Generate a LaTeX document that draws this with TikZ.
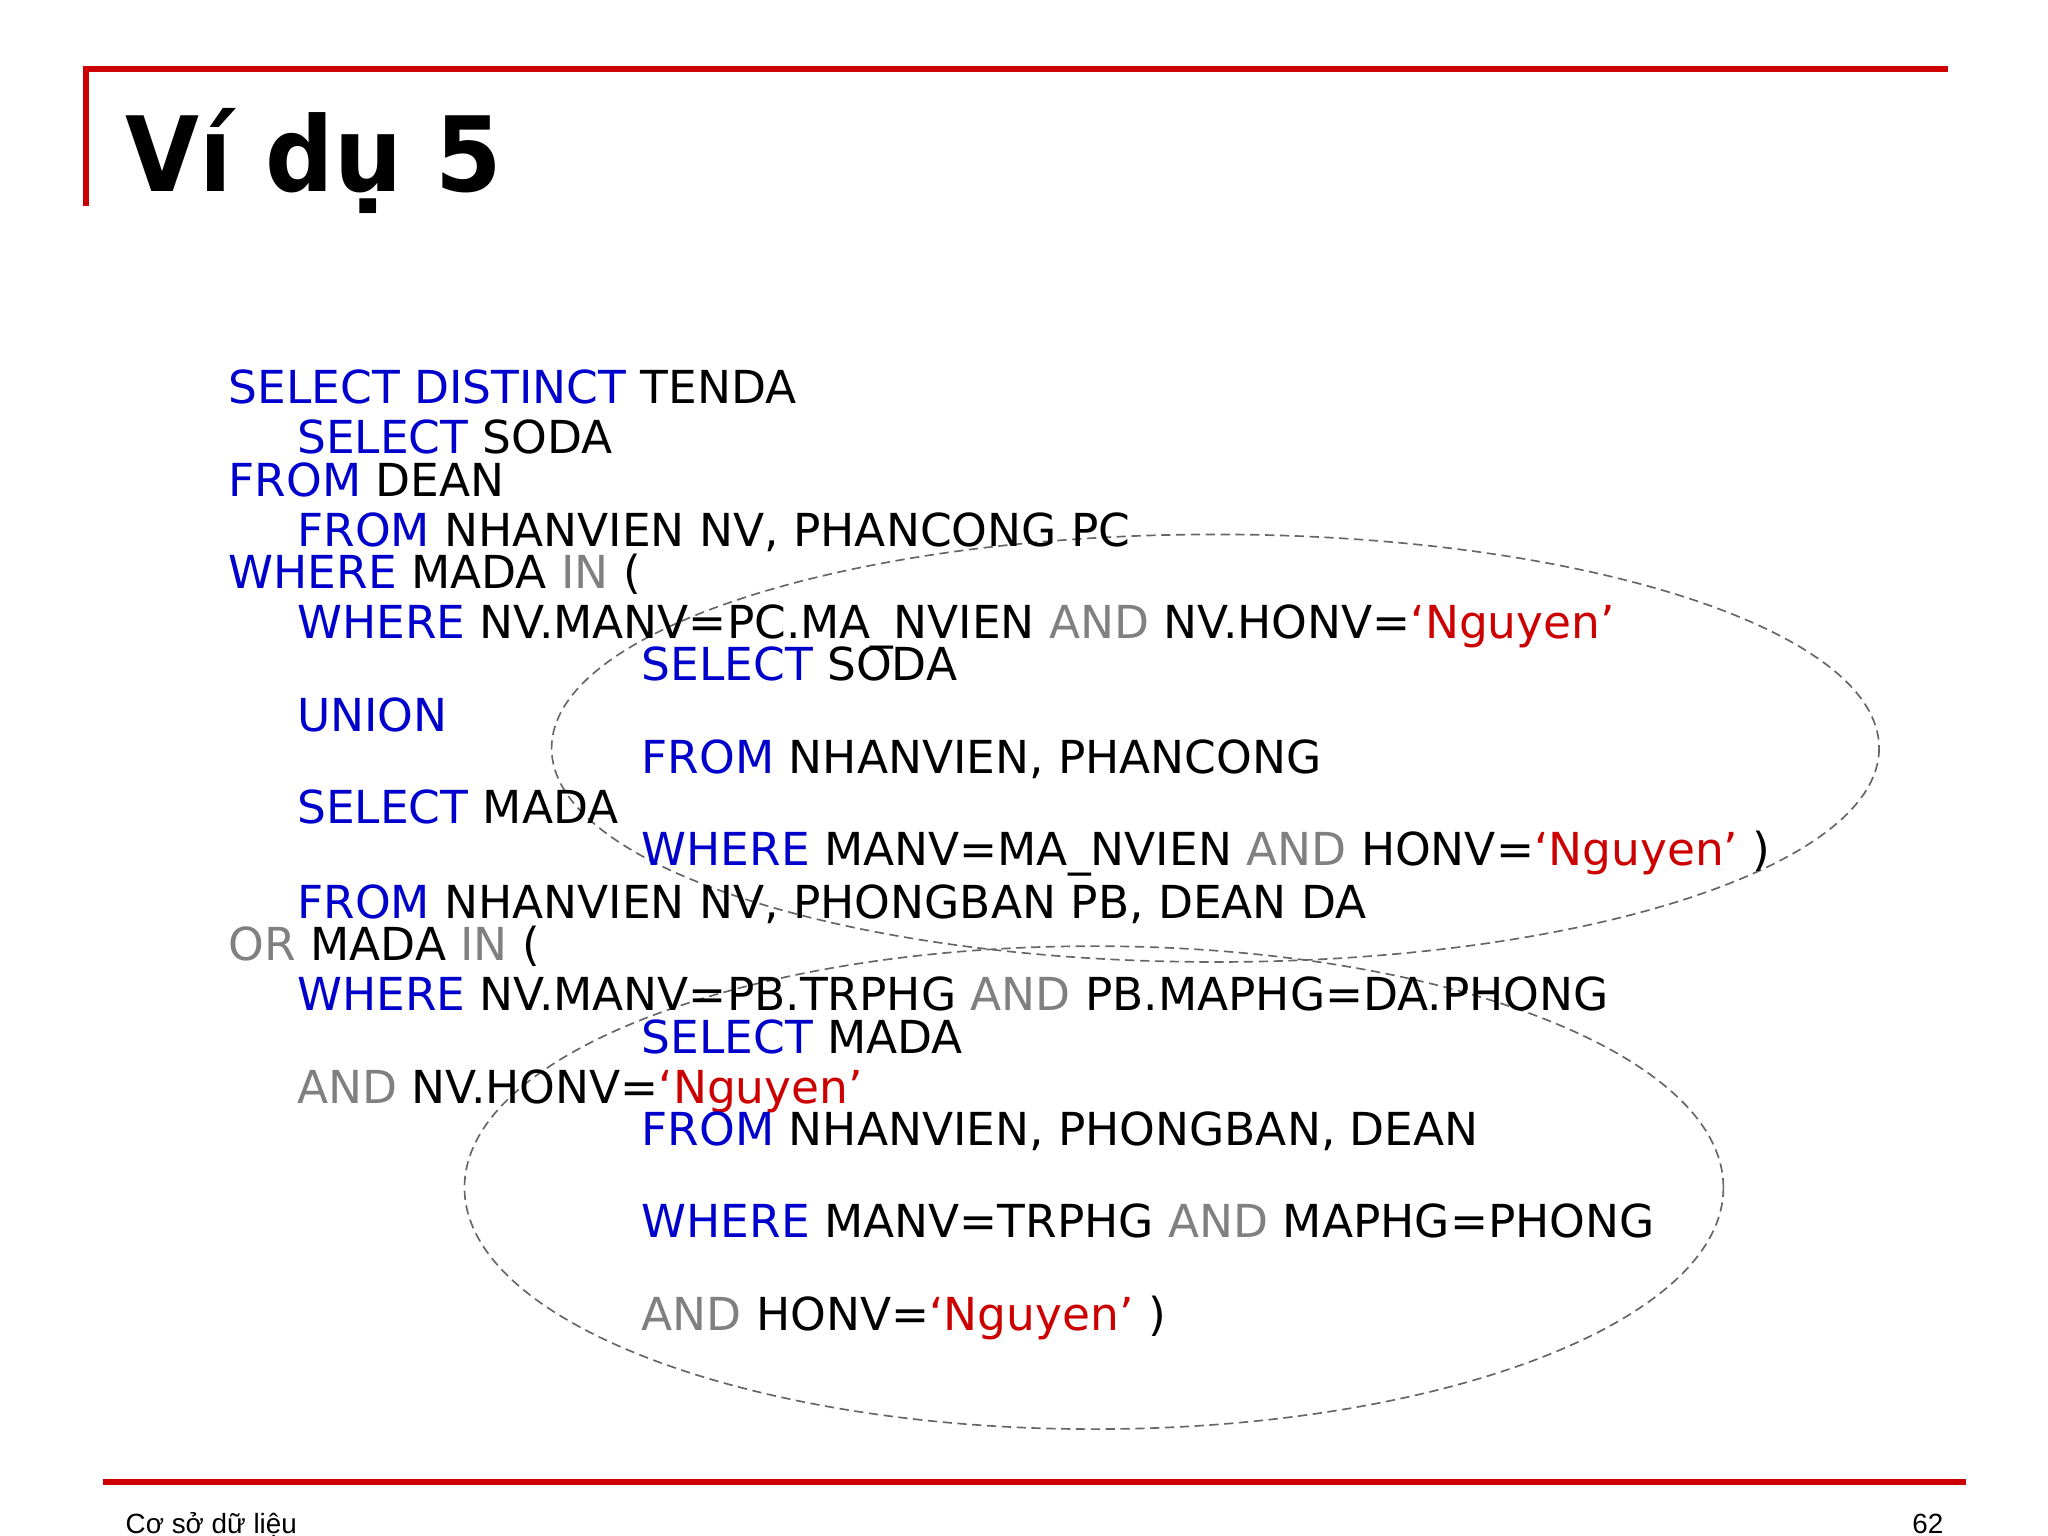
\documentclass[tikz,border=0pt]{standalone}
\usepackage{fontspec}
\setmainfont{DejaVu Sans}
\newfontfamily\code{DejaVu Sans}
\newfontfamily\titlef[FakeStretch=0.92]{DejaVu Sans}
\newfontfamily\footf{Liberation Sans}
\definecolor{kw}{RGB}{0,0,204}
\definecolor{op}{RGB}{128,128,128}
\definecolor{st}{RGB}{204,0,0}
\definecolor{rl}{RGB}{204,0,0}
\newcommand{\K}[1]{\textcolor{kw}{#1}}
\newcommand{\G}[1]{\textcolor{op}{#1}}
\newcommand{\Sq}[1]{\textcolor{st}{#1}}
\begin{document}
\begin{tikzpicture}[x=0.25mm,y=-0.25mm,
  sql/.style={anchor=base west,inner sep=0pt,font=\code\fontsize{24.5pt}{30pt}\selectfont},
  ell/.style={draw=black!60,dash pattern=on 5pt off 3pt,line width=0.9pt}]
\useasboundingbox (0,0) rectangle (1552,1164);
\draw[rl,line width=1.1mm] (63,52) -- (1476,52);
\draw[rl,line width=1.1mm] (65,50) -- (65,156);
\draw[rl,line width=1.1mm] (78,1123) -- (1490,1123);
\node[anchor=base west,inner sep=0pt,font=\titlef\bfseries\fontsize{56pt}{60pt}\selectfont] (title) at (95,145) {Ví dụ 5};
\node[anchor=base west,inner sep=0pt,font=\footf\fontsize{15pt}{16pt}\selectfont] (foot) at (95,1162) {Cơ sở dữ liệu};
\node[anchor=base east,inner sep=0pt,font=\footf\fontsize{15pt}{16pt}\selectfont] (page) at (1473,1162) {62};
\draw[ell] (921,567) ellipse [x radius=503,y radius=162];
\draw[ell] (829,900) ellipse [x radius=477,y radius=183];
\node[sql] (l1) at (173,306) {\K{SELECT DISTINCT} TENDA};
\node[sql] (l2) at (225,344) {\K{SELECT} SODA};
\node[sql] (l3) at (173,376) {\K{FROM} DEAN};
\node[sql] (l4) at (225,414) {\K{FROM} NHANVIEN NV, PHANCONG PC};
\node[sql] (l5) at (173,446) {\K{WHERE} MADA \G{IN} (};
\node[sql] (l6) at (225,484) {\K{WHERE} NV.MANV=PC.MA\_NVIEN \G{AND} NV.HONV=\Sq{‘Nguyen’}};
\node[sql] (l7) at (486,516) {\K{SELECT} SODA};
\node[sql] (l8) at (225,554) {\K{UNION}};
\node[sql] (l9) at (486,586) {\K{FROM} NHANVIEN, PHANCONG};
\node[sql] (l10) at (225,624) {\K{SELECT} MADA};
\node[sql] (l11) at (486,656) {\K{WHERE} MANV=MA\_NVIEN \G{AND} HONV=\Sq{‘Nguyen’} )};
\node[sql] (l12) at (225,696) {\K{FROM} NHANVIEN NV, PHONGBAN PB, DEAN DA};
\node[sql] (l13) at (173,728) {\G{OR} MADA \G{IN} (};
\node[sql] (l14) at (225,766) {\K{WHERE} NV.MANV=PB.TRPHG \G{AND} PB.MAPHG=DA.PHONG};
\node[sql] (l15) at (486,798) {\K{SELECT} MADA};
\node[sql] (l16) at (225,836) {\G{AND} NV.HONV=\Sq{‘Nguyen’}};
\node[sql] (l17) at (486,868) {\K{FROM} NHANVIEN, PHONGBAN, DEAN};
\node[sql] (l18) at (486,938) {\K{WHERE} MANV=TRPHG \G{AND} MAPHG=PHONG};
\node[sql] (l19) at (486,1008) {\G{AND} HONV=\Sq{‘Nguyen’} )};
\end{tikzpicture}
\end{document}
